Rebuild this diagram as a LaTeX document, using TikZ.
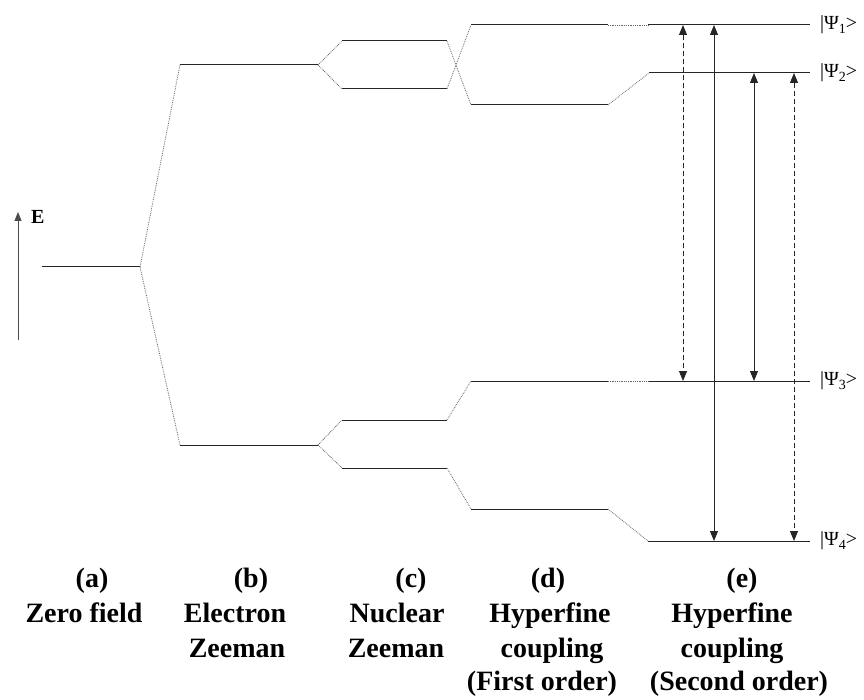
\documentclass[tikz,border=0pt]{standalone}
\usepackage{fontspec}
\setmainfont{Liberation Serif}
\usetikzlibrary{arrows.meta}
\begin{document}
\begin{tikzpicture}[x=1pt,y=1pt,
  level/.style={black!85, line width=1pt},
  link/.style={black!60, line width=0.8pt, densely dotted},
  tr/.style={black!85, line width=0.9pt, {Triangle[width=8pt,length=10pt]}-{Triangle[width=8pt,length=10pt]}},
  trd/.style={tr, dash pattern=on 5pt off 3pt},
  lbl/.style={font=\fontsize{28}{28}\selectfont\bfseries, anchor=base, inner sep=0pt},
  psi/.style={font=\fontsize{20}{20}\selectfont, anchor=west, inner sep=0pt}]
\useasboundingbox (0,0) rectangle (864,-700);

% energy axis
\coordinate (Ea) at (18,-340);
\coordinate (Eb) at (18,-212);
\draw[black!70, line width=0.9pt, -{Triangle[width=7pt,length=9pt]}] (Ea) -- (Eb);
\node[font=\fontsize{20}{20}\selectfont\bfseries, anchor=west, inner sep=0pt] (E) at (31,-217) {E};

% (a) zero field
\coordinate (za) at (42,-267);  \coordinate (zb) at (140,-267);
% (b) electron Zeeman
\coordinate (eua) at (180,-65);  \coordinate (eub) at (318,-65);
\coordinate (ela) at (180,-445); \coordinate (elb) at (318,-445);
% (c) nuclear Zeeman
\coordinate (n1a) at (342,-41);  \coordinate (n1b) at (447,-41);
\coordinate (n2a) at (342,-89);  \coordinate (n2b) at (447,-89);
\coordinate (n3a) at (342,-420); \coordinate (n3b) at (447,-420);
\coordinate (n4a) at (342,-468); \coordinate (n4b) at (447,-468);
% (d) hyperfine first order
\coordinate (h1a) at (471,-25);  \coordinate (h1b) at (608,-25);
\coordinate (h2a) at (471,-105); \coordinate (h2b) at (608,-105);
\coordinate (h3a) at (471,-381); \coordinate (h3b) at (608,-381);
\coordinate (h4a) at (471,-509); \coordinate (h4b) at (608,-509);
% (e) hyperfine second order
\coordinate (p1a) at (648,-25);  \coordinate (p1b) at (810,-25);
\coordinate (p2a) at (649,-73);  \coordinate (p2b) at (810,-73);
\coordinate (p3a) at (648,-381); \coordinate (p3b) at (810,-381);
\coordinate (p4a) at (648,-541); \coordinate (p4b) at (810,-541);

% levels
\foreach \l in {z,eu,el,n1,n2,n3,n4,h1,h2,h3,h4,p1,p2,p3,p4}
  \draw[level] (\l a) -- (\l b);

% connectors
\draw[link] (zb) -- (eua);
\draw[link] (zb) -- (ela);
\draw[link] (eub) -- (n1a);
\draw[link] (eub) -- (n2a);
\draw[link] (elb) -- (n3a);
\draw[link] (elb) -- (n4a);
\draw[link] (n1b) -- (h2a);
\draw[link] (n2b) -- (h1a);
\draw[link] (n3b) -- (h3a);
\draw[link] (n4b) -- (h4a);
\draw[link] (h1b) -- (p1a);
\draw[link] (h2b) -- (p2a);
\draw[link] (h3b) -- (p3a);
\draw[link] (h4b) -- (p4a);

% transitions
\coordinate (t1) at (683,0);
\coordinate (t2) at (714,0);
\coordinate (t3) at (754,0);
\coordinate (t4) at (794,0);
\draw[trd] (p1a -| t1) -- (p3a -| t1);
\draw[tr]  (p1a -| t2) -- (p4a -| t2);
\draw[tr]  (p2a -| t3) -- (p3a -| t3);
\draw[trd] (p2a -| t4) -- (p4a -| t4);

% state labels
\node[psi] (L1) at ([xshift=10pt]p1b) {|Ψ\raisebox{-0.45ex}{\fontsize{14}{14}\selectfont 1}>};
\node[psi] (L2) at ([xshift=10pt]p2b) {|Ψ\raisebox{-0.45ex}{\fontsize{14}{14}\selectfont 2}>};
\node[psi] (L3) at ([xshift=10pt]p3b) {|Ψ\raisebox{-0.45ex}{\fontsize{14}{14}\selectfont 3}>};
\node[psi] (L4) at ([xshift=10pt]p4b) {|Ψ\raisebox{-0.45ex}{\fontsize{14}{14}\selectfont 4}>};

% column captions
\node[lbl] (ca1) at (92,-587) {(a)};
\node[lbl] (ca2) at (84,-622) {Zero field};
\node[lbl] (cb1) at (251,-587) {(b)};
\node[lbl] (cb2) at (235,-622) {Electron};
\node[lbl] (cb3) at (237,-657) {Zeeman};
\node[lbl] (cc1) at (411,-587) {(c)};
\node[lbl] (cc2) at (397,-622) {Nuclear};
\node[lbl] (cc3) at (396,-657) {Zeeman};
\node[lbl] (cd1) at (548,-587) {(d)};
\node[lbl] (cd2) at (550,-622) {Hyperfine};
\node[lbl] (cd3) at (552,-657) {coupling};
\node[lbl] (cd4) at (542,-690) {(First order)};
\node[lbl] (ce1) at (742,-587) {(e)};
\node[lbl] (ce2) at (732,-622) {Hyperfine};
\node[lbl] (ce3) at (732,-657) {coupling};
\node[lbl] (ce4) at (739,-690) {(Second order)};
\end{tikzpicture}
\end{document}
